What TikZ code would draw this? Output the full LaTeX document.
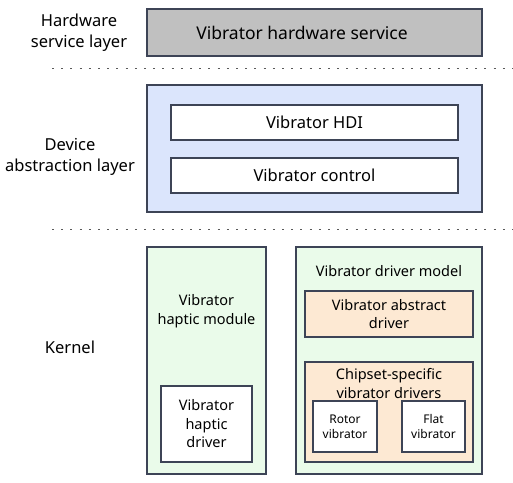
\documentclass[tikz,border=0pt]{standalone}
\usepackage{fontspec}
\setmainfont{Noto Sans}
\definecolor{edgecol}{HTML}{3D4456}
\definecolor{grayfill}{HTML}{C0C0C0}
\definecolor{bluefill}{HTML}{DBE5FC}
\definecolor{greenfill}{HTML}{EAFBEA}
\definecolor{orangefill}{HTML}{FDE9D3}
\newcommand{\bigsize}{\fontsize{17.5}{21}\selectfont}
\newcommand{\mainsize}{\fontsize{16.5}{20.5}\selectfont}
\newcommand{\kersize}{\fontsize{14.5}{18.5}\selectfont}
\newcommand{\smallsize}{\fontsize{12}{15}\selectfont}
\tikzset{
  box/.style={draw=edgecol, line width=1.3pt, inner sep=0pt, align=center, font=\kersize},
  lbl/.style={align=center, font=\kersize},
  sep/.style={draw=gray!70!black, line width=1pt, dash pattern=on 2pt off 7.2pt},
}
\begin{document}
\begin{tikzpicture}[x=1pt, y=-1pt]
    \useasboundingbox (0,0) rectangle (513,482);
    % layer names
    \node[lbl, font=\mainsize] (hwname) at (79, 32.5) {Hardware\\service layer};
    \node[lbl, font=\mainsize] (devname) at (70, 157) {Device\\abstraction layer};
    \node[lbl, font=\mainsize] (kername) at (70, 347) {Kernel};
    % separators
    \coordinate (s1a) at (52, 68);
    \coordinate (s1b) at (513, 68);
    \coordinate (s2a) at (52, 229);
    \coordinate (s2b) at (513, 229);
    \draw[sep] (s1a) -- (s1b);
    \draw[sep] (s2a) -- (s2b);
    % hardware service layer
    \node[box, fill=grayfill, minimum width=335, minimum height=47, font=\bigsize] (hwsvc) at (314.5, 32.5) {\hspace*{-25pt}Vibrator hardware service};
    % device abstraction layer
    \node[box, fill=bluefill, minimum width=335, minimum height=127] (dal) at (314.5, 148.5) {};
    \node[box, fill=white, minimum width=287, minimum height=35, font=\mainsize] (hdi) at (314.5, 122.5) {Vibrator HDI};
    \node[box, fill=white, minimum width=287, minimum height=35, font=\mainsize] (ctrl) at (314.5, 175.5) {Vibrator control};
    % kernel
    \node[box, fill=greenfill, minimum width=119, minimum height=227] (haptic) at (206.5, 360.5) {};
    \node[lbl] (hapticname) at (206.5, 311) {Vibrator\\haptic module};
    \node[box, fill=white, minimum width=91, minimum height=76] (hapdrv) at (206.5, 424) {Vibrator\\haptic\\driver};
    \node[box, fill=greenfill, minimum width=186, minimum height=227] (model) at (389, 360.5) {};
    \node[lbl] (modelname) at (389, 271) {Vibrator driver model};
    \node[box, fill=orangefill, minimum width=168, minimum height=46] (abs) at (389, 314) {Vibrator abstract\\driver};
    \node[box, fill=orangefill, minimum width=168, minimum height=100] (chip) at (389, 412) {};
    \node[lbl] (chipname) at (389, 383.5) {Chipset-specific\\vibrator drivers};
    \node[box, fill=white, minimum width=64, minimum height=51, font=\smallsize] (rotor) at (345, 426.5) {Rotor\\vibrator};
    \node[box, fill=white, minimum width=63, minimum height=51, font=\smallsize] (flat) at (433.5, 426.5) {Flat\\vibrator};
\end{tikzpicture}
\end{document}
